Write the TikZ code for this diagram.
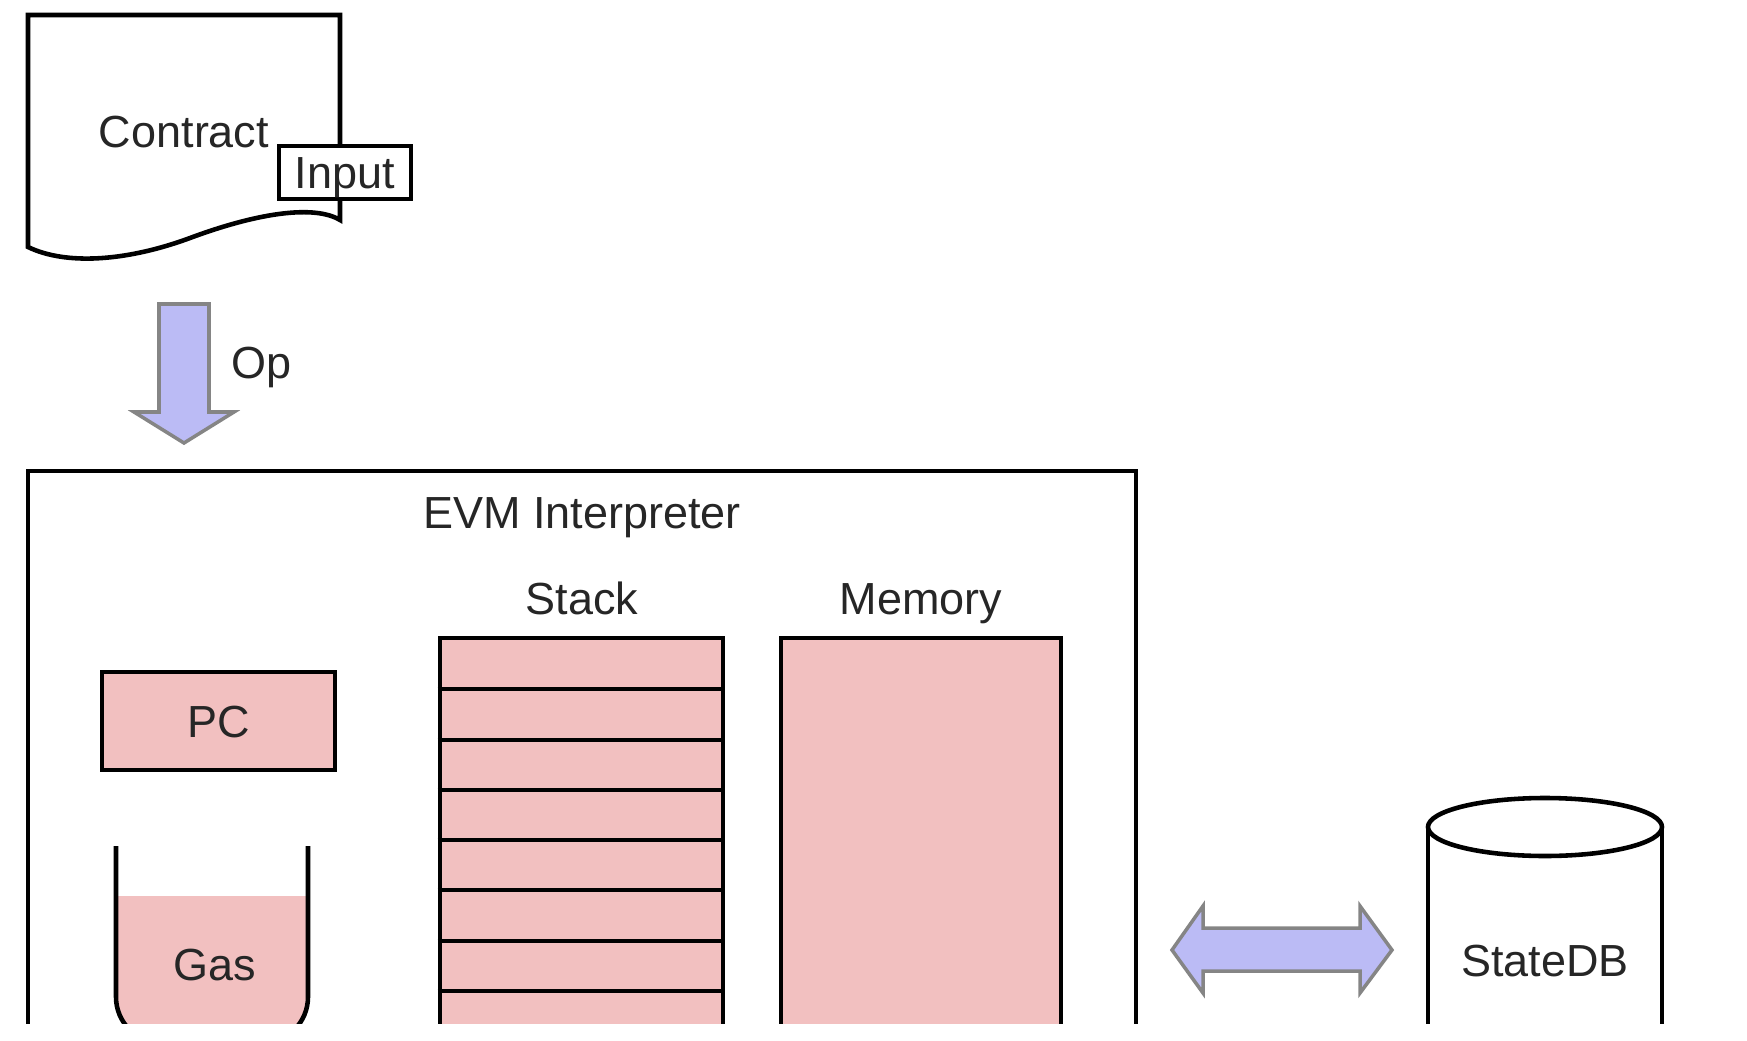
\documentclass[tikz,border=0pt]{standalone}
\usepackage{fontspec}
\setmainfont{Liberation Sans}
\usepackage{tikz}
\usepackage{xcolor}
\definecolor{cellpink}{HTML}{F2C0C0}
\definecolor{arrowblue}{HTML}{BBBBF5}
\definecolor{arrowgray}{HTML}{858585}
\definecolor{inkgray}{HTML}{262626}

\begin{document}
\begin{tikzpicture}[x=0.1mm, y=-0.1mm, line width=1.3pt,
    lbl/.style={text=inkgray, font=\fontsize{12.8}{15}\selectfont, text height=9.2pt, text depth=0pt, inner sep=0pt},
    cell/.style={draw, fill=cellpink, lbl},
    fatarrow/.style={draw=arrowgray, fill=arrowblue, line width=1pt, line join=miter}]
    \useasboundingbox (0, 0) rectangle (1747, 1041);
    \clip (0, 0) rectangle (1747, 1023);
    % contract document
    \draw[fill=white] (28, 15) -- (340, 15) -- (340, 220) .. controls (315, 205) and (260, 212) .. (190, 238) .. controls (125, 262) and (65, 265) .. (28, 247) -- cycle;
    \node[lbl] (contract) at (184, 131) {Contract};
    \node[draw, fill=white, lbl, minimum width=13.2mm, minimum height=5.3mm] (input) at (345, 172.5) {Input};
    % op arrow
    \draw[fatarrow] (159, 304) -- (209, 304) -- (209, 412) -- (234, 412) -- (184, 443) -- (134, 412) -- (159, 412) -- cycle;
    \node[lbl] (op) at (262, 362) {Op};
    % interpreter
    \node[draw, minimum width=110.8mm, minimum height=58.9mm] (evm) at (582, 765.5) {};
    \node[lbl] (evmtitle) at (582, 512) {EVM Interpreter};
    \node[lbl] (stacklbl) at (582, 598) {Stack};
    \node[lbl] (memorylbl) at (921, 598) {Memory};
    \node[cell, minimum width=23.3mm, minimum height=9.8mm] (pc) at (218.5, 721) {PC};
    \node[cell, minimum width=28.3mm, minimum height=42.2mm] (stack) at (581.5, 849) {};
    \draw (stack.west |- 0, 689) -- (stack.east |- 0, 689);
    \draw (stack.west |- 0, 740) -- (stack.east |- 0, 740);
    \draw (stack.west |- 0, 790) -- (stack.east |- 0, 790);
    \draw (stack.west |- 0, 840) -- (stack.east |- 0, 840);
    \draw (stack.west |- 0, 890) -- (stack.east |- 0, 890);
    \draw (stack.west |- 0, 941) -- (stack.east |- 0, 941);
    \draw (stack.west |- 0, 991) -- (stack.east |- 0, 991);
    \node[cell, minimum width=28mm, minimum height=42.2mm] (memory) at (921, 849) {};
    % gas beaker
    \fill[cellpink] (116, 896) [rounded corners=4.6mm] -- (116, 1043) -- (308, 1043) [sharp corners] -- (308, 896) -- cycle;
    \draw[rounded corners=4.6mm] (116, 846) -- (116, 1043) -- (308, 1043) -- (308, 846);
    \node[lbl] (gas) at (215, 964) {Gas};
    % state db
    \draw[fatarrow] (1172, 950) -- (1203, 906) -- (1203, 928) -- (1360, 928) -- (1360, 906) -- (1392, 950) -- (1360, 993) -- (1360, 971) -- (1203, 971) -- (1203, 993) -- cycle;
    \draw[fill=white] (1428, 827) -- (1428, 1060) -- (1662, 1060) -- (1662, 827);
    \draw[fill=white] (1545, 827) ellipse [x radius=11.7mm, y radius=2.9mm];
    \node[lbl] (statedb) at (1545, 960) {StateDB};
\end{tikzpicture}
\end{document}
